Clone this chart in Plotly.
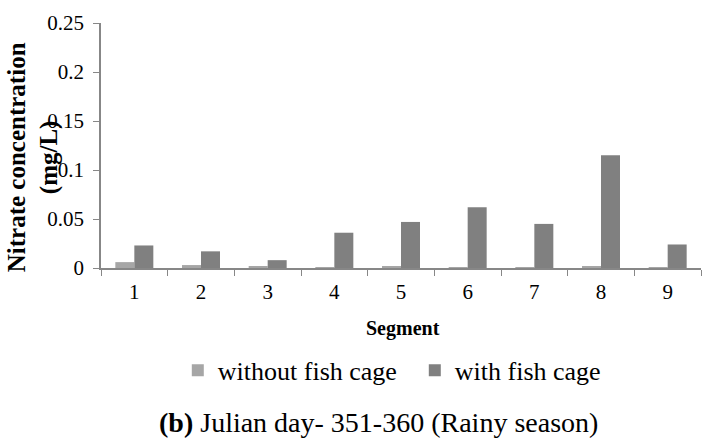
import plotly.graph_objects as go

segments = ["1", "2", "3", "4", "5", "6", "7", "8", "9"]
without_cage = [0.006, 0.003, 0.002, 0.001, 0.002, 0.001, 0.001, 0.002, 0.001]
with_cage = [0.023, 0.017, 0.008, 0.036, 0.047, 0.062, 0.045, 0.115, 0.024]
y_ticks = [0, 0.05, 0.1, 0.15, 0.2, 0.25]
y_tick_labels = ["0", "0.05", "0.1", "0.15", "0.2", "0.25"]

FONT = "Liberation Serif, Times New Roman, serif"

fig = go.Figure()
fig.add_trace(go.Bar(x=segments, y=without_cage, name="without fish cage",
                     marker=dict(color="#a6a6a6", line=dict(width=0))))
fig.add_trace(go.Bar(x=segments, y=with_cage, name="with fish cage",
                     marker=dict(color="#808080", line=dict(width=0))))

fig.update_layout(
    width=711, height=439,
    margin=dict(l=101, r=10, t=23, b=171),
    paper_bgcolor="white", plot_bgcolor="white",
    barmode="group", bargap=0.43, bargroupgap=0,
    font=dict(family=FONT, color="black"),
    showlegend=True,
    legend=dict(orientation="h", x=0.128, xanchor="left", y=-0.418, yanchor="middle",
                font=dict(size=26, family=FONT), itemwidth=30, traceorder="normal",
                entrywidth=192, entrywidthmode="pixels", bgcolor="rgba(0,0,0,0)"),
    xaxis=dict(type="category", showline=True, linecolor="#878787", linewidth=1.5,
               ticks="outside", tickson="boundaries", ticklen=6, tickcolor="#878787",
               tickfont=dict(size=21, family=FONT), showgrid=False, ticklabelstandoff=4),
    yaxis=dict(range=[0, 0.25], tickvals=y_ticks, ticktext=y_tick_labels,
               showline=True, linecolor="#878787", linewidth=1.5,
               ticks="outside", ticklen=6, tickcolor="#878787",
               tickfont=dict(size=21, family=FONT), showgrid=False, zeroline=False,
               ticklabelstandoff=5),
    annotations=[
        dict(text="<b>Nitrate concentration<br>(mg/L)</b>", textangle=-90,
             xref="paper", yref="paper", x=-0.1125, y=0.45, xanchor="center", yanchor="middle",
             showarrow=False, font=dict(size=25, family=FONT)),
        dict(text="<b>Segment</b>",
             xref="paper", yref="paper", x=0.503, y=-0.245, xanchor="center", yanchor="middle",
             showarrow=False, font=dict(size=20, family=FONT)),
        dict(text="<b>(b)</b> Julian day- 351-360 (Rainy season)",
             xref="paper", yref="paper", x=0.463, y=-0.629, xanchor="center", yanchor="middle",
             showarrow=False, font=dict(size=28, family=FONT)),
    ],
)

fig.write_html("out.html")
